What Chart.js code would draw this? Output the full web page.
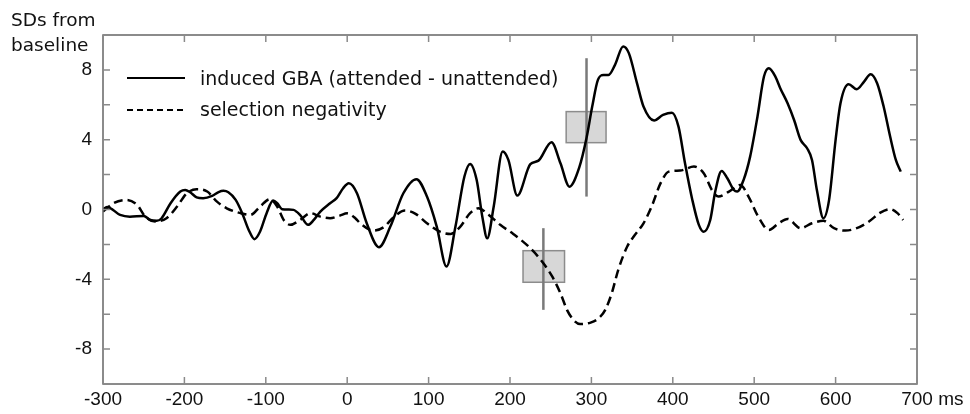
<!DOCTYPE html>
<html>
<head>
<meta charset="utf-8">
<script src="https://cdn.jsdelivr.net/npm/chart.js@4.4.0/dist/chart.umd.min.js"></script>
<style>
  html, body { margin: 0; padding: 0; background: #fff; }
  #wrap { width: 970px; height: 414px; position: relative; }
</style>
</head>
<body>
<div id="wrap"><canvas id="chart"></canvas></div>
<script>
// induced GBA (attended - unattended), solid line
const gbaTimes = [-300, -295, -279, -267, -250, -242, -234, -228, -217, -205, -199, -193, -185, -177, -166, -158, -152, -146, -137, -129,
  -121, -114, -107, -99, -91, -86, -80, -72, -66, -58, -48, -41, -33, -21, -13, -5, 2, 12, 24, 39,
  53, 69, 85, 98, 110, 122, 133, 144, 151, 159, 166, 172, 180, 191, 198, 209, 225, 235, 251, 262,
  273, 285, 294, 301, 308, 315, 321, 329, 339, 346, 356, 364, 377, 388, 399, 407, 415, 424, 432, 438,
  446, 452, 460, 467, 475, 479, 487, 495, 504, 512, 518, 526, 532, 541, 549, 557, 565, 571, 577, 585,
  592, 600, 606, 616, 626, 635, 643, 651, 659, 667, 674, 680];
const gbaValues = [0.0, 0.15, -0.31, -0.41, -0.37, -0.6, -0.65, -0.5, 0.36, 1.03, 1.12, 0.99, 0.7, 0.65, 0.78, 1.0, 1.07, 0.99, 0.55, -0.21,
  -1.17, -1.7, -1.26, -0.21, 0.51, 0.36, 0.02, 0.0, -0.02, -0.31, -0.88, -0.6, -0.12, 0.36, 0.65, 1.22, 1.5, 0.93, -0.79, -2.16,
  -0.98, 0.93, 1.74, 0.74, -0.98, -3.27, -0.98, 1.89, 2.61, 1.7, -0.41, -1.65, 0.17, 3.32, 2.84, 0.8, 2.6, 2.8, 3.86, 2.65,
  1.31, 2.4, 4.1, 5.9, 7.43, 7.71, 7.71, 8.29, 9.34, 8.96, 7.24, 5.9, 5.1, 5.42, 5.55, 4.75, 2.65, 0.55, -0.88, -1.27,
  -0.6, 1.0, 2.21, 1.79, 1.12, 1.03, 1.7, 3.03, 5.32, 7.62, 8.1, 7.62, 6.95, 6.09, 5.13, 3.99, 3.51, 2.84, 1.12, -0.5,
  0.55, 3.99, 6.09, 7.18, 6.89, 7.33, 7.75, 7.24, 5.9, 4.18, 2.84, 2.17];

// selection negativity, dashed line
const snTimes = [-300, -287, -271, -258, -248, -236, -222, -209, -197, -185, -172, -160, -148, -131, -119, -107, -95, -86, -78, -70,
  -58, -45, -33, -21, -9, 0, 10, 16, 32, 45, 57, 71, 84, 98, 114, 127, 139, 151, 161, 174,
  188, 204, 225, 241, 252, 262, 270, 278, 286, 299, 309, 317, 325, 333, 344, 352, 364, 374, 385, 395,
  409, 426, 438, 448, 456, 469, 483, 493, 505, 518, 530, 541, 557, 571, 585, 598, 612, 626, 641, 655,
  667, 676, 683];
const snValues = [-0.12, 0.36, 0.55, 0.26, -0.41, -0.69, -0.5, 0.17, 0.93, 1.16, 1.03, 0.45, 0.07, -0.21, -0.31, 0.17, 0.59, 0.17, -0.6, -0.88,
  -0.6, -0.21, -0.41, -0.5, -0.35, -0.22, -0.5, -0.79, -1.21, -1.01, -0.44, -0.06, -0.25, -0.79, -1.27, -1.4, -0.98, -0.21, 0.07, -0.31,
  -0.88, -1.4, -2.22, -3.08, -3.85, -4.8, -5.75, -6.33, -6.56, -6.48, -6.23, -5.75, -4.8, -3.46, -2.12, -1.55, -0.79, 0.17, 1.51, 2.17,
  2.23, 2.46, 2.08, 1.12, 0.74, 1.03, 1.41, 0.74, -0.41, -1.17, -0.79, -0.54, -1.07, -0.79, -0.65, -1.07, -1.21, -1.07, -0.69, -0.18,
  0.02, -0.21, -0.6];

// onset boxes (time range, value range) and the vertical bars through them
const boxTimes = [[269, 318], [216, 267]];
const boxValues = [[3.83, 5.61], [-4.17, -2.36]];
const barTimes = [294, 241];
const barValues = [[0.74, 8.67], [-5.75, -1.07]];

const yTickLabels = [8, 4, 0, -4, -8];
const seriesLabels = ['induced GBA (attended - unattended)', 'selection negativity'];

const tickFont = { family: "'Liberation Sans', Arial, sans-serif", size: 19 };
const textFont = '"DejaVu Sans", sans-serif';

const toPoints = (xs, ys) => xs.map((t, i) => ({ x: t, y: ys[i] }));

const decorations = {
  id: 'decorations',
  beforeDatasetsDraw(chart) {
    const { ctx, scales: { x, y } } = chart;
    ctx.save();
    boxTimes.forEach((t, i) => {
      const x0 = x.getPixelForValue(t[0]);
      const x1 = x.getPixelForValue(t[1]);
      const y0 = y.getPixelForValue(boxValues[i][1]);
      const y1 = y.getPixelForValue(boxValues[i][0]);
      ctx.fillStyle = '#d7d7d7';
      ctx.fillRect(x0, y0, x1 - x0, y1 - y0);
      ctx.strokeStyle = '#8c8c8c';
      ctx.lineWidth = 1.5;
      ctx.strokeRect(x0, y0, x1 - x0, y1 - y0);
    });
    barTimes.forEach((t, i) => {
      const px = x.getPixelForValue(t);
      ctx.strokeStyle = '#7a7a7a';
      ctx.lineWidth = 2.5;
      ctx.beginPath();
      ctx.moveTo(px, y.getPixelForValue(barValues[i][0]));
      ctx.lineTo(px, y.getPixelForValue(barValues[i][1]));
      ctx.stroke();
    });
    ctx.restore();
  },
  afterDraw(chart) {
    const { ctx, chartArea: a, scales: { x, y } } = chart;
    ctx.save();

    // frame
    ctx.strokeStyle = '#666';
    ctx.lineWidth = 1.5;
    ctx.strokeRect(a.left, a.top, a.right - a.left, a.bottom - a.top);

    // inward ticks on all four sides
    ctx.strokeStyle = '#8a8a8a';
    ctx.beginPath();
    x.ticks.forEach(t => {
      const px = x.getPixelForValue(t.value);
      ctx.moveTo(px, a.top); ctx.lineTo(px, a.top + 7);
      ctx.moveTo(px, a.bottom); ctx.lineTo(px, a.bottom - 7);
    });
    y.ticks.forEach(t => {
      const py = y.getPixelForValue(t.value);
      ctx.moveTo(a.left, py); ctx.lineTo(a.left + 7, py);
      ctx.moveTo(a.right, py); ctx.lineTo(a.right - 7, py);
    });
    ctx.stroke();

    // unit after the last x label
    ctx.fillStyle = '#111';
    ctx.font = tickFont.size + 'px ' + tickFont.family;
    ctx.textAlign = 'left';
    ctx.textBaseline = 'middle';
    const lastX = x.getPixelForValue(x.max);
    ctx.fillText(' ms', lastX + ctx.measureText(String(x.max)).width / 2, a.bottom + 4 + tickFont.size * 0.6);

    // y axis title
    ctx.font = '18.5px ' + textFont;
    ctx.textBaseline = 'alphabetic';
    ctx.fillText('SDs from', 11, 26);
    ctx.fillText('baseline', 11, 51);

    // legend inside the plot
    ctx.font = '19px ' + textFont;
    ctx.strokeStyle = '#000';
    ctx.lineWidth = 2;
    chart.data.datasets.forEach((ds, i) => {
      const ly = i === 0 ? 78 : 110;
      ctx.setLineDash(i === 0 ? [] : [6, 4]);
      ctx.beginPath();
      ctx.moveTo(127, ly);
      ctx.lineTo(185, ly);
      ctx.stroke();
      ctx.setLineDash([]);
      ctx.fillText(ds.label, 200, i === 0 ? 85 : 116);
    });
    ctx.restore();
  }
};

new Chart(document.getElementById('chart'), {
  type: 'line',
  data: {
    datasets: [
      {
        label: seriesLabels[0],
        data: toPoints(gbaTimes, gbaValues),
        borderColor: '#000',
        borderWidth: 2.5,
        pointRadius: 0,
        cubicInterpolationMode: 'monotone'
      },
      {
        label: seriesLabels[1],
        data: toPoints(snTimes, snValues),
        borderColor: '#000',
        borderWidth: 2.5,
        borderDash: [9, 5],
        pointRadius: 0,
        cubicInterpolationMode: 'monotone'
      }
    ]
  },
  options: {
    responsive: true,
    maintainAspectRatio: false,
    animation: false,
    layout: { padding: { top: 35, right: 53, left: 0, bottom: 0 } },
    plugins: {
      legend: { display: false },
      tooltip: { enabled: false }
    },
    scales: {
      x: {
        type: 'linear',
        min: -300,
        max: 700,
        grid: { display: false, drawTicks: false },
        border: { display: false },
        afterFit: s => { s.height = 30; },
        ticks: {
          stepSize: 100,
          autoSkip: false,
          maxRotation: 0,
          padding: 4,
          color: '#111',
          font: tickFont
        }
      },
      y: {
        min: -10,
        max: 10,
        grid: { display: false, drawTicks: false },
        border: { display: false },
        afterFit: s => { s.width = 103; },
        ticks: {
          stepSize: 2,
          padding: 11,
          color: '#111',
          font: tickFont,
          callback: v => (yTickLabels.includes(v) ? String(v) : '')
        }
      }
    }
  },
  plugins: [decorations]
});
</script>
</body>
</html>
